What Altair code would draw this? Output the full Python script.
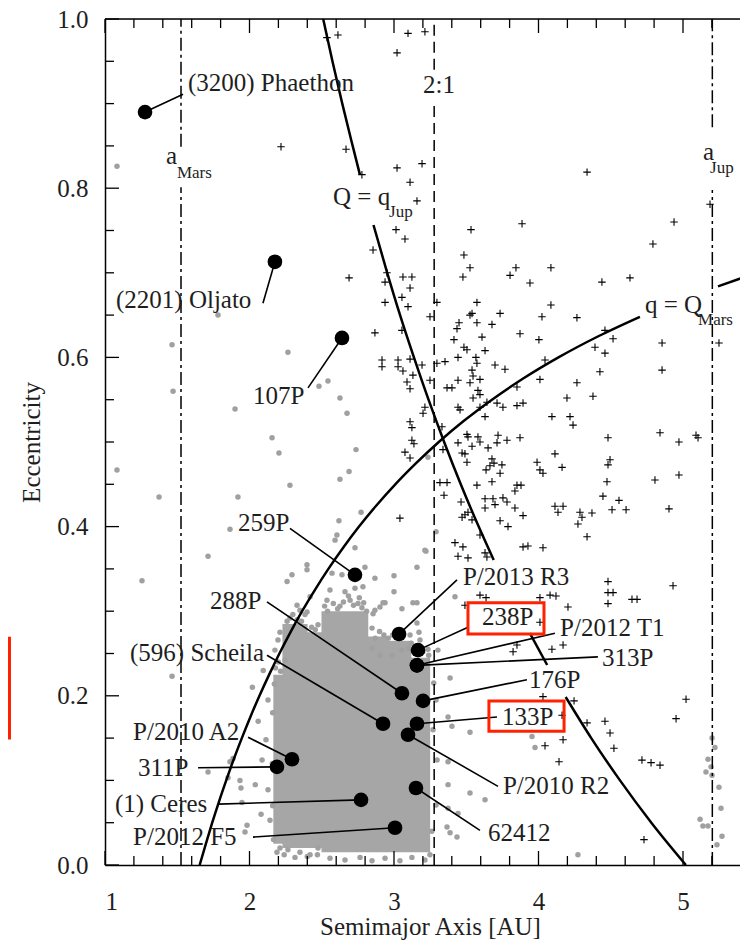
import altair as alt
import pandas as pd

FONT = "Liberation Serif"
TXT = "#1e1e1e"
GREY = "#a6a6a6"
RED = "#ff2200"
W, H = 635, 846
XD = [1.0, 5.3945]
YD = [0.0, 1.0]

# ---------------- data (semimajor axis a [AU], eccentricity e) ----------------
x_labels = [1, 2, 3, 4, 5]
y_labels = [0.0, 0.2, 0.4, 0.6, 0.8, 1.0]
x_major = [1, 2, 3, 4, 5]
x_minor = [1.2, 1.4, 1.6, 1.8, 2.2, 2.4, 2.6, 2.8, 3.2, 3.4, 3.6, 3.8,
           4.2, 4.4, 4.6, 4.8, 5.2]
y_major = [0.0, 0.2, 0.4, 0.6, 0.8, 1.0]
y_minor = [0.05, 0.1, 0.15, 0.25, 0.3, 0.35, 0.45, 0.5, 0.55, 0.65, 0.7,
           0.75, 0.85, 0.9, 0.95]

# dense main-belt core (a_lo, a_hi, e_lo, e_hi)
core_a1 = [2.165, 2.228, 2.398, 2.498, 2.818, 2.948, 2.948]
core_a2 = [2.232, 2.402, 2.502, 2.822, 2.952, 3.25, 3.12]
core_e1 = [0.025, 0.02, 0.02, 0.015, 0.015, 0.015, 0.243]
core_e2 = [0.225, 0.285, 0.275, 0.30, 0.27, 0.245, 0.265]

grey_pts = [
    (1.083, 0.826), (1.782, 0.650), (1.464, 0.615), (1.471, 0.560), (2.266, 0.606), (2.481, 0.566), (2.543, 0.572),
    (2.626, 0.552), (2.675, 0.534), (1.900, 0.539), (2.156, 0.505), (2.204, 0.487), (2.737, 0.491), (2.626, 0.456),
    (2.689, 0.465), (2.280, 0.449), (1.083, 0.467), (1.374, 0.435), (1.920, 0.435), (2.772, 0.417), (2.619, 0.407),
    (1.865, 0.397), (2.605, 0.390), (2.592, 0.384), (2.730, 0.375), (1.713, 0.365), (2.398, 0.355), (2.398, 0.349),
    (2.294, 0.343), (2.260, 0.335), (1.256, 0.336), (2.571, 0.345), (2.640, 0.343), (2.799, 0.352), (2.868, 0.339),
    (2.419, 0.317), (2.329, 0.307), (2.349, 0.301), (2.398, 0.299), (3.221, 0.371), (3.159, 0.352), (3.000, 0.342),
    (2.785, 0.329), (3.000, 0.323), (2.938, 0.310), (2.903, 0.305), (2.868, 0.301), (3.055, 0.303), (3.159, 0.310),
    (2.855, 0.297), (2.778, 0.304), (3.159, 0.286), (3.173, 0.275), (2.848, 0.256), (2.903, 0.248), (2.986, 0.248),
    (3.055, 0.254), (2.211, 0.275), (2.197, 0.266), (2.176, 0.254), (1.886, 0.126), (1.865, 0.122), (1.934, 0.100),
    (1.941, 0.091), (1.851, 0.103), (1.969, 0.039), (1.983, 0.047), (2.266, 0.018), (2.349, 0.015), (2.419, 0.012),
    (2.474, 0.020), (2.211, 0.020), (1.464, 0.223), (1.713, 0.110), (1.948, 0.074), (3.388, 0.221), (3.374, 0.175),
    (3.401, 0.164), (3.526, 0.157), (3.955, 0.152), (3.976, 0.139), (3.374, 0.122), (3.374, 0.095), (3.526, 0.085),
    (3.630, 0.077), (3.374, 0.067), (3.443, 0.061), (3.367, 0.045), (3.436, 0.033), (4.273, 0.012), (3.388, 0.038),
    (5.201, 0.150), (5.221, 0.139), (5.173, 0.125), (5.194, 0.116), (5.159, 0.110), (5.201, 0.106), (5.249, 0.092),
    (5.263, 0.067), (5.118, 0.054), (5.138, 0.046), (5.173, 0.046), (5.270, 0.034), (5.235, 0.024), (3.235, 0.482),
    (3.291, 0.394), (3.214, 0.372), (2.924, 0.310), (3.131, 0.310), (3.422, 0.317),
    (2.557, 0.325), (2.661, 0.323), (2.730, 0.327), (2.536, 0.313), (2.696, 0.313), (2.626, 0.306), (2.751, 0.309),
    (2.128, 0.195), (2.114, 0.148), (2.128, 0.089), (2.142, 0.053), (2.087, 0.124),
    (2.557, 0.008), (2.661, 0.006), (2.765, 0.009), (2.848, 0.005), (2.938, 0.008), (3.041, 0.005), (3.124, 0.009),
    (3.214, 0.006), (3.249, 0.012), (2.315, 0.009),
    (3.291, 0.195), (3.298, 0.124), (3.291, 0.071), (3.304, 0.254), (3.270, 0.160), (3.275, 0.215), (3.262, 0.040),
    (3.180, 0.266), (3.235, 0.255), (3.111, 0.272), (3.028, 0.276), (2.848, 0.280), (2.900, 0.276), (2.990, 0.272),
    (2.280, 0.292), (2.384, 0.296), (2.474, 0.284), (2.246, 0.242), (2.330, 0.290), (2.430, 0.281),
    (2.520, 0.306), (2.580, 0.309), (2.650, 0.311), (2.720, 0.307), (2.790, 0.310), (2.810, 0.300),
    (2.180, 0.233), (2.200, 0.240), (2.215, 0.229), (2.172, 0.214), (2.160, 0.180), (2.158, 0.120),
    (2.160, 0.070), (2.166, 0.030), (2.190, 0.015), (2.240, 0.012), (2.400, 0.010), (2.470, 0.012),
    (3.200, 0.252), (3.150, 0.258), (3.120, 0.262), (3.100, 0.256), (3.010, 0.270), (2.960, 0.268),
    (2.060, 0.170), (2.040, 0.095), (2.080, 0.060), (2.020, 0.210), (2.095, 0.230),
    (2.300, 0.296), (2.360, 0.288), (2.260, 0.288), (2.455, 0.278), (2.610, 0.303), (2.685, 0.318),
    (2.760, 0.316), (2.540, 0.300), (2.870, 0.268), (2.930, 0.272), (3.240, 0.248), (3.180, 0.252),
]

plus_pts = [
    (2.536, 0.978), (2.612, 0.981), (2.218, 0.849), (2.668, 0.846), (2.778, 0.816), (2.855, 0.727), (2.689, 0.694),
    (3.097, 0.983), (3.214, 0.985), (3.021, 0.960), (3.021, 0.824), (3.194, 0.829), (3.111, 0.807), (3.159, 0.785),
    (3.014, 0.751), (3.076, 0.740), (2.951, 0.700), (3.062, 0.695), (3.124, 0.695), (2.938, 0.689), (3.111, 0.682),
    (2.938, 0.665), (3.055, 0.671), (3.097, 0.660), (3.297, 0.665), (3.249, 0.648), (3.533, 0.751), (3.886, 0.758),
    (4.336, 0.819), (4.938, 0.760), (4.792, 0.734), (5.187, 0.781), (3.484, 0.721), (3.526, 0.706), (3.477, 0.695),
    (3.844, 0.706), (3.803, 0.697), (4.086, 0.706), (3.941, 0.688), (4.439, 0.689), (4.633, 0.694), (3.574, 0.665),
    (3.540, 0.652), (3.734, 0.652), (4.086, 0.662), (4.024, 0.648), (4.266, 0.647), (3.526, 0.650), (2.868, 0.629),
    (3.055, 0.632), (3.450, 0.641), (3.574, 0.641), (3.678, 0.639), (3.436, 0.634), (3.415, 0.621), (3.609, 0.624),
    (3.872, 0.628), (4.003, 0.621), (4.460, 0.632), (4.516, 0.622), (4.855, 0.617), (5.249, 0.617), (3.484, 0.612),
    (3.505, 0.609), (3.630, 0.608), (4.391, 0.612), (4.460, 0.605), (2.917, 0.597), (2.917, 0.589), (3.028, 0.597),
    (3.111, 0.598), (3.028, 0.589), (3.062, 0.584), (3.131, 0.579), (3.194, 0.591), (3.297, 0.593), (3.353, 0.595),
    (3.443, 0.600), (3.567, 0.600), (3.574, 0.593), (3.699, 0.591), (3.768, 0.586), (4.045, 0.597), (4.425, 0.583),
    (4.855, 0.585), (3.540, 0.585), (3.547, 0.578), (3.595, 0.574), (3.526, 0.570), (3.249, 0.573), (3.443, 0.573),
    (3.090, 0.571), (3.111, 0.563), (3.367, 0.564), (3.401, 0.564), (3.581, 0.561), (3.595, 0.556), (3.547, 0.552),
    (3.851, 0.565), (4.010, 0.574), (4.266, 0.570), (4.197, 0.552), (4.377, 0.554), (3.214, 0.541), (3.201, 0.534),
    (3.443, 0.541), (3.457, 0.538), (3.595, 0.541), (3.643, 0.547), (3.713, 0.546), (3.754, 0.541), (3.851, 0.543),
    (3.893, 0.546), (3.630, 0.530), (3.111, 0.524), (3.124, 0.517), (3.332, 0.518), (4.093, 0.530), (4.218, 0.530),
    (4.239, 0.520), (3.124, 0.502), (3.138, 0.498), (3.443, 0.499), (3.505, 0.509), (3.512, 0.506), (3.581, 0.506),
    (3.595, 0.500), (3.720, 0.508), (3.782, 0.502), (3.872, 0.505), (3.339, 0.491), (3.471, 0.487), (3.540, 0.495),
    (3.651, 0.493), (3.713, 0.499), (3.076, 0.488), (3.111, 0.481), (3.491, 0.486), (3.505, 0.476), (3.678, 0.480),
    (3.692, 0.475), (3.664, 0.472), (3.637, 0.467), (3.747, 0.473), (3.734, 0.463), (3.990, 0.476), (4.010, 0.467),
    (4.031, 0.463), (4.114, 0.486), (4.163, 0.470), (4.481, 0.505), (4.495, 0.479), (4.481, 0.473), (4.474, 0.453),
    (4.841, 0.511), (4.972, 0.500), (5.090, 0.508), (5.104, 0.505), (4.806, 0.455), (4.972, 0.461), (4.446, 0.436),
    (4.557, 0.431), (4.509, 0.420), (4.606, 0.420), (4.903, 0.421), (3.318, 0.452), (3.367, 0.452), (3.346, 0.437),
    (3.574, 0.449), (3.678, 0.453), (3.851, 0.449), (3.879, 0.449), (3.837, 0.442), (3.630, 0.433), (3.685, 0.433),
    (3.754, 0.434), (3.782, 0.429), (3.630, 0.422), (3.699, 0.426), (3.837, 0.422), (3.893, 0.413), (3.464, 0.429),
    (3.491, 0.414), (3.512, 0.417), (3.540, 0.408), (3.471, 0.411), (3.734, 0.407), (3.789, 0.400), (4.114, 0.424),
    (4.170, 0.424), (4.135, 0.417), (4.287, 0.417), (4.301, 0.411), (4.370, 0.416), (4.273, 0.403), (4.336, 0.388),
    (3.595, 0.390), (3.041, 0.410), (3.422, 0.381), (3.477, 0.376), (3.443, 0.365), (3.512, 0.363), (3.630, 0.369),
    (3.643, 0.364), (3.893, 0.376), (3.927, 0.377), (4.031, 0.375), (4.481, 0.335), (4.931, 0.330), (3.595, 0.319),
    (3.637, 0.316), (4.010, 0.316), (4.080, 0.319), (4.121, 0.318), (4.204, 0.305), (4.481, 0.322), (4.516, 0.322),
    (4.481, 0.309), (4.647, 0.314), (4.682, 0.314), (3.491, 0.307), (3.851, 0.260), (3.824, 0.252), (4.093, 0.255),
    (4.170, 0.260), (4.010, 0.287), (4.031, 0.199), (4.163, 0.177), (4.246, 0.194), (4.336, 0.168), (4.460, 0.170),
    (4.495, 0.156), (4.522, 0.138), (4.170, 0.148), (4.045, 0.141), (4.142, 0.122), (4.716, 0.124), (4.779, 0.121),
    (4.841, 0.118), (4.952, 0.173), (5.021, 0.196), (4.730, 0.030),
]

# named objects: name, a, e, leader start (a, e)
obj_names = ["(3200) Phaethon", "(2201) Oljato", "107P", "259P", "288P", "(596) Scheila",
             "P/2010 A2", "311P", "(1) Ceres", "P/2012 F5", "P/2013 R3", "238P",
             "P/2012 T1", "313P", "176P", "133P", "P/2010 R2", "62412"]
obj_a = [1.277, 2.176, 2.640, 2.730, 3.055, 2.924, 2.294, 2.190, 2.772, 3.007,
         3.035, 3.166, 3.159, 3.159, 3.201, 3.159, 3.097, 3.152]
obj_e = [0.890, 0.713, 0.623, 0.343, 0.203, 0.167, 0.125, 0.116, 0.077, 0.044,
         0.273, 0.254, 0.236, 0.236, 0.194, 0.167, 0.154, 0.091]
lead_a = [1.540, 2.093, 2.405, 2.280, 2.121, 2.121, 1.990, 1.644, 1.782, 2.024,
          3.436, 3.512, 4.114, 4.411, 3.920, 3.713, 3.720, 3.595]
lead_e = [0.911, 0.664, 0.564, 0.398, 0.311, 0.248, 0.151, 0.115, 0.072, 0.033,
          0.337, 0.281, 0.274, 0.246, 0.219, 0.175, 0.093, 0.041]
lab_a = [1.574, 1.076, 2.024, 1.920, 1.727, 1.173, 1.194, 1.228, 1.069, 1.194,
         3.477, 3.609, 4.149, 4.439, 3.934, 3.747, 3.754, 3.651]
lab_e = [0.924, 0.668, 0.554, 0.404, 0.312, 0.251, 0.157, 0.115, 0.072, 0.033,
         0.340, 0.293, 0.280, 0.245, 0.219, 0.175, 0.093, 0.038]

# curve labels and line labels
note_text = ["Q = q", "q = Q", "a", "2:1", "a"]
note_a = [2.578, 4.737, 1.422, 3.201, 5.138]
note_e = [0.790, 0.662, 0.838, 0.922, 0.843]
sub_text = ["Jup", "Mars", "Mars", "Jup"]
sub_a = [2.966, 5.104, 1.498, 5.187]
sub_e = [0.772, 0.644, 0.818, 0.824]

# Q = q_Jup and q = Q_Mars curves
qjup_a = [2.510, 2.574, 2.642, 2.714, 2.764,
          2.858, 2.953, 3.042, 3.138, 3.239, 3.347, 3.462, 3.586, 3.690,
          3.940, 4.060,
          4.188, 4.365, 4.564, 4.781, 5.020]
qjup_e = [1.0, 0.95, 0.90, 0.85, 0.816,
          0.7565, 0.70, 0.65, 0.60, 0.55, 0.50, 0.45, 0.40, 0.3605,
          0.274, 0.2364,
          0.1986, 0.15, 0.10, 0.05, 0.0]
qjup_seg = [1] * 5 + [2] * 9 + [3] * 2 + [4] * 5
qmars_a = [1.655, 1.698, 1.742, 1.789, 1.839, 1.891, 1.947, 2.006, 2.069, 2.136,
           2.207, 2.283, 2.364, 2.452, 2.546, 2.648, 2.758, 2.878, 3.009, 3.153,
           3.310, 3.484, 3.678, 3.894, 4.138, 4.414, 4.702,
           5.242, 5.460]
qmars_e = [0.0, 0.025, 0.05, 0.075, 0.10, 0.125, 0.15, 0.175, 0.20, 0.225,
           0.25, 0.275, 0.30, 0.325, 0.35, 0.375, 0.40, 0.425, 0.45, 0.475,
           0.50, 0.525, 0.55, 0.575, 0.60, 0.625, 0.648,
           0.684, 0.697]
qmars_seg = [1] * 27 + [2] * 2

# vertical reference lines: a, e_lo, e_hi segments
amars_a = [1.526, 1.526]
amars_e1 = [0.0, 0.849]
amars_e2 = [0.801, 1.0]
res21_a = [3.278, 3.278]
res21_e1 = [0.0, 0.940]
res21_e2 = [0.902, 1.0]
ajup_a = [5.203, 5.203]
ajup_e1 = [0.0, 0.872]
ajup_e2 = [0.798, 1.0]

# highlight boxes (a_lo, a_hi, e_lo, e_hi)
box_a1 = [3.512, 3.657, 0.0]
box_a2 = [4.038, 4.177, 0.339]
box_e1 = [0.273, 0.158, 0.150]
box_e2 = [0.310, 0.194, 0.268]

# ---------------- chart ----------------
xax = alt.Axis(values=x_labels, format="d", ticks=False, grid=False,
               domainColor="black", domainWidth=1.5,
               labelFont=FONT, labelFontSize=25, labelColor=TXT, labelPadding=24,
               title="Semimajor Axis [AU]", titleFont=FONT, titleFontSize=25,
               titleFontWeight="normal", titleColor=TXT,
               titleBaseline="alphabetic", titleY=69, titleX=325)
yax = alt.Axis(values=y_labels, format=".1f", ticks=False, grid=False,
               domainColor="black", domainWidth=1.5,
               labelFont=FONT, labelFontSize=25, labelColor=TXT, labelPadding=17,
               title="Eccentricity", titleFont=FONT, titleFontSize=25,
               titleFontWeight="normal", titleColor=TXT, titlePadding=12)
xs = alt.Scale(domain=XD, zero=False, nice=False)
ys = alt.Scale(domain=YD, zero=False, nice=False)


def X(f="a"):
    return alt.X(f, type="quantitative", scale=xs, axis=xax)


def Y(f="e"):
    return alt.Y(f, type="quantitative", scale=ys, axis=yax)


core_df = pd.DataFrame({"a": core_a1, "a2": core_a2, "e": core_e1, "e2": core_e2})
grey_df = pd.DataFrame(grey_pts, columns=["a", "e"])
plus_df = pd.DataFrame(plus_pts, columns=["a", "e"])
obj_df = pd.DataFrame({"name": obj_names, "a": obj_a, "e": obj_e,
                       "a2": lead_a, "e2": lead_e})
lab_df = pd.DataFrame({"name": obj_names, "a": lab_a, "e": lab_e})
note_df = pd.DataFrame({"t": note_text, "a": note_a, "e": note_e})
sub_df = pd.DataFrame({"t": sub_text, "a": sub_a, "e": sub_e})
qjup_df = pd.DataFrame({"a": qjup_a, "e": qjup_e, "seg": qjup_seg, "i": range(len(qjup_a))})
qmars_df = pd.DataFrame({"a": qmars_a, "e": qmars_e, "seg": qmars_seg, "i": range(len(qmars_a))})
box_df = pd.DataFrame({"a": box_a1, "a2": box_a2, "e": box_e1, "e2": box_e2})

core = alt.Chart(core_df).mark_rect(color=GREY).encode(
    x=X(), x2="a2", y=Y(), y2="e2")
grey = alt.Chart(grey_df).mark_circle(color="#a0a0a0", size=30, opacity=1).encode(x=X(), y=Y())
plus = alt.Chart(plus_df).mark_point(shape="M-1,0H1M0,-1V1", size=56, filled=False,
                                     stroke="black", strokeWidth=1.1, opacity=1).encode(x=X(), y=Y())

qjup = alt.Chart(qjup_df).mark_line(color="black", strokeWidth=2.5, clip=True,
                                    interpolate="monotone").encode(
    x=X(), y=Y(), detail="seg:N", order="i:Q")
qmars = alt.Chart(qmars_df).mark_line(color="black", strokeWidth=2.5, clip=True,
                                      interpolate="monotone").encode(
    x=X(), y=Y(), detail="seg:N", order="i:Q")


def vline(av, e1, e2, dash):
    df = pd.DataFrame({"a": av, "e": e1, "e2": e2})
    return alt.Chart(df).mark_rule(color="black", strokeWidth=1.5, strokeDash=dash).encode(
        x=X(), y=Y(), y2="e2")


amars = vline(amars_a, amars_e1, amars_e2, [13, 4, 3, 4])
res21 = vline(res21_a, res21_e1, res21_e2, [11, 6])
ajup = vline(ajup_a, ajup_e1, ajup_e2, [13, 4, 3, 4])

leaders = alt.Chart(obj_df).mark_rule(color="black", strokeWidth=1.6).encode(
    x=X(), y=Y(), x2="a2", y2="e2")
dots = alt.Chart(obj_df).mark_circle(color="black", size=215, opacity=1).encode(x=X(), y=Y())
labels = alt.Chart(lab_df).mark_text(font=FONT, fontSize=25, color=TXT, align="left",
                                     baseline="middle").encode(x=X(), y=Y(), text="name:N")
notes = alt.Chart(note_df).mark_text(font=FONT, fontSize=25, color=TXT, align="left",
                                     baseline="middle").encode(x=X(), y=Y(), text="t:N")
subs = alt.Chart(sub_df).mark_text(font=FONT, fontSize=17, color=TXT, align="left",
                                   baseline="middle").encode(x=X(), y=Y(), text="t:N")
boxes = alt.Chart(box_df).mark_rect(filled=False, stroke=RED, strokeWidth=3, clip=False).encode(
    x=X(), x2="a2", y=Y(), y2="e2")

xmaj_df = pd.DataFrame({"a": x_major})
xmin_df = pd.DataFrame({"a": x_minor})
ymaj_df = pd.DataFrame({"e": y_major})
ymin_df = pd.DataFrame({"e": y_minor})


def xticks(df, ln):
    b = alt.Chart(df).mark_rule(color="black", strokeWidth=1.3).encode(
        x=X(), y=alt.value(H), y2=alt.value(H - ln))
    t = alt.Chart(df).mark_rule(color="black", strokeWidth=1.3).encode(
        x=X(), y=alt.value(0), y2=alt.value(ln))
    return [b, t]


def yticks(df, ln):
    return [alt.Chart(df).mark_rule(color="black", strokeWidth=1.3).encode(
        y=Y(), x=alt.value(0), x2=alt.value(ln))]


top_line = alt.Chart(pd.DataFrame({"k": [0]})).mark_rule(color="black", strokeWidth=1.5).encode(
    x=alt.value(0), x2=alt.value(W), y=alt.value(0))

layers = [core, grey, plus, qjup, qmars, amars, res21, ajup, leaders, dots,
          labels, notes, subs, boxes]
layers += xticks(xmaj_df, 14) + xticks(xmin_df, 9)
layers += yticks(ymaj_df, 14) + yticks(ymin_df, 9)
layers += [top_line]

chart = alt.layer(*layers).properties(
    width=W, height=H,
    padding={"left": 97, "top": 11, "right": 0, "bottom": 75},
    autosize=alt.AutoSizeParams(type="none"),
).configure_view(stroke=None).configure(background="white")

chart.save("out.html", embed_options={"renderer": "svg", "actions": False})
